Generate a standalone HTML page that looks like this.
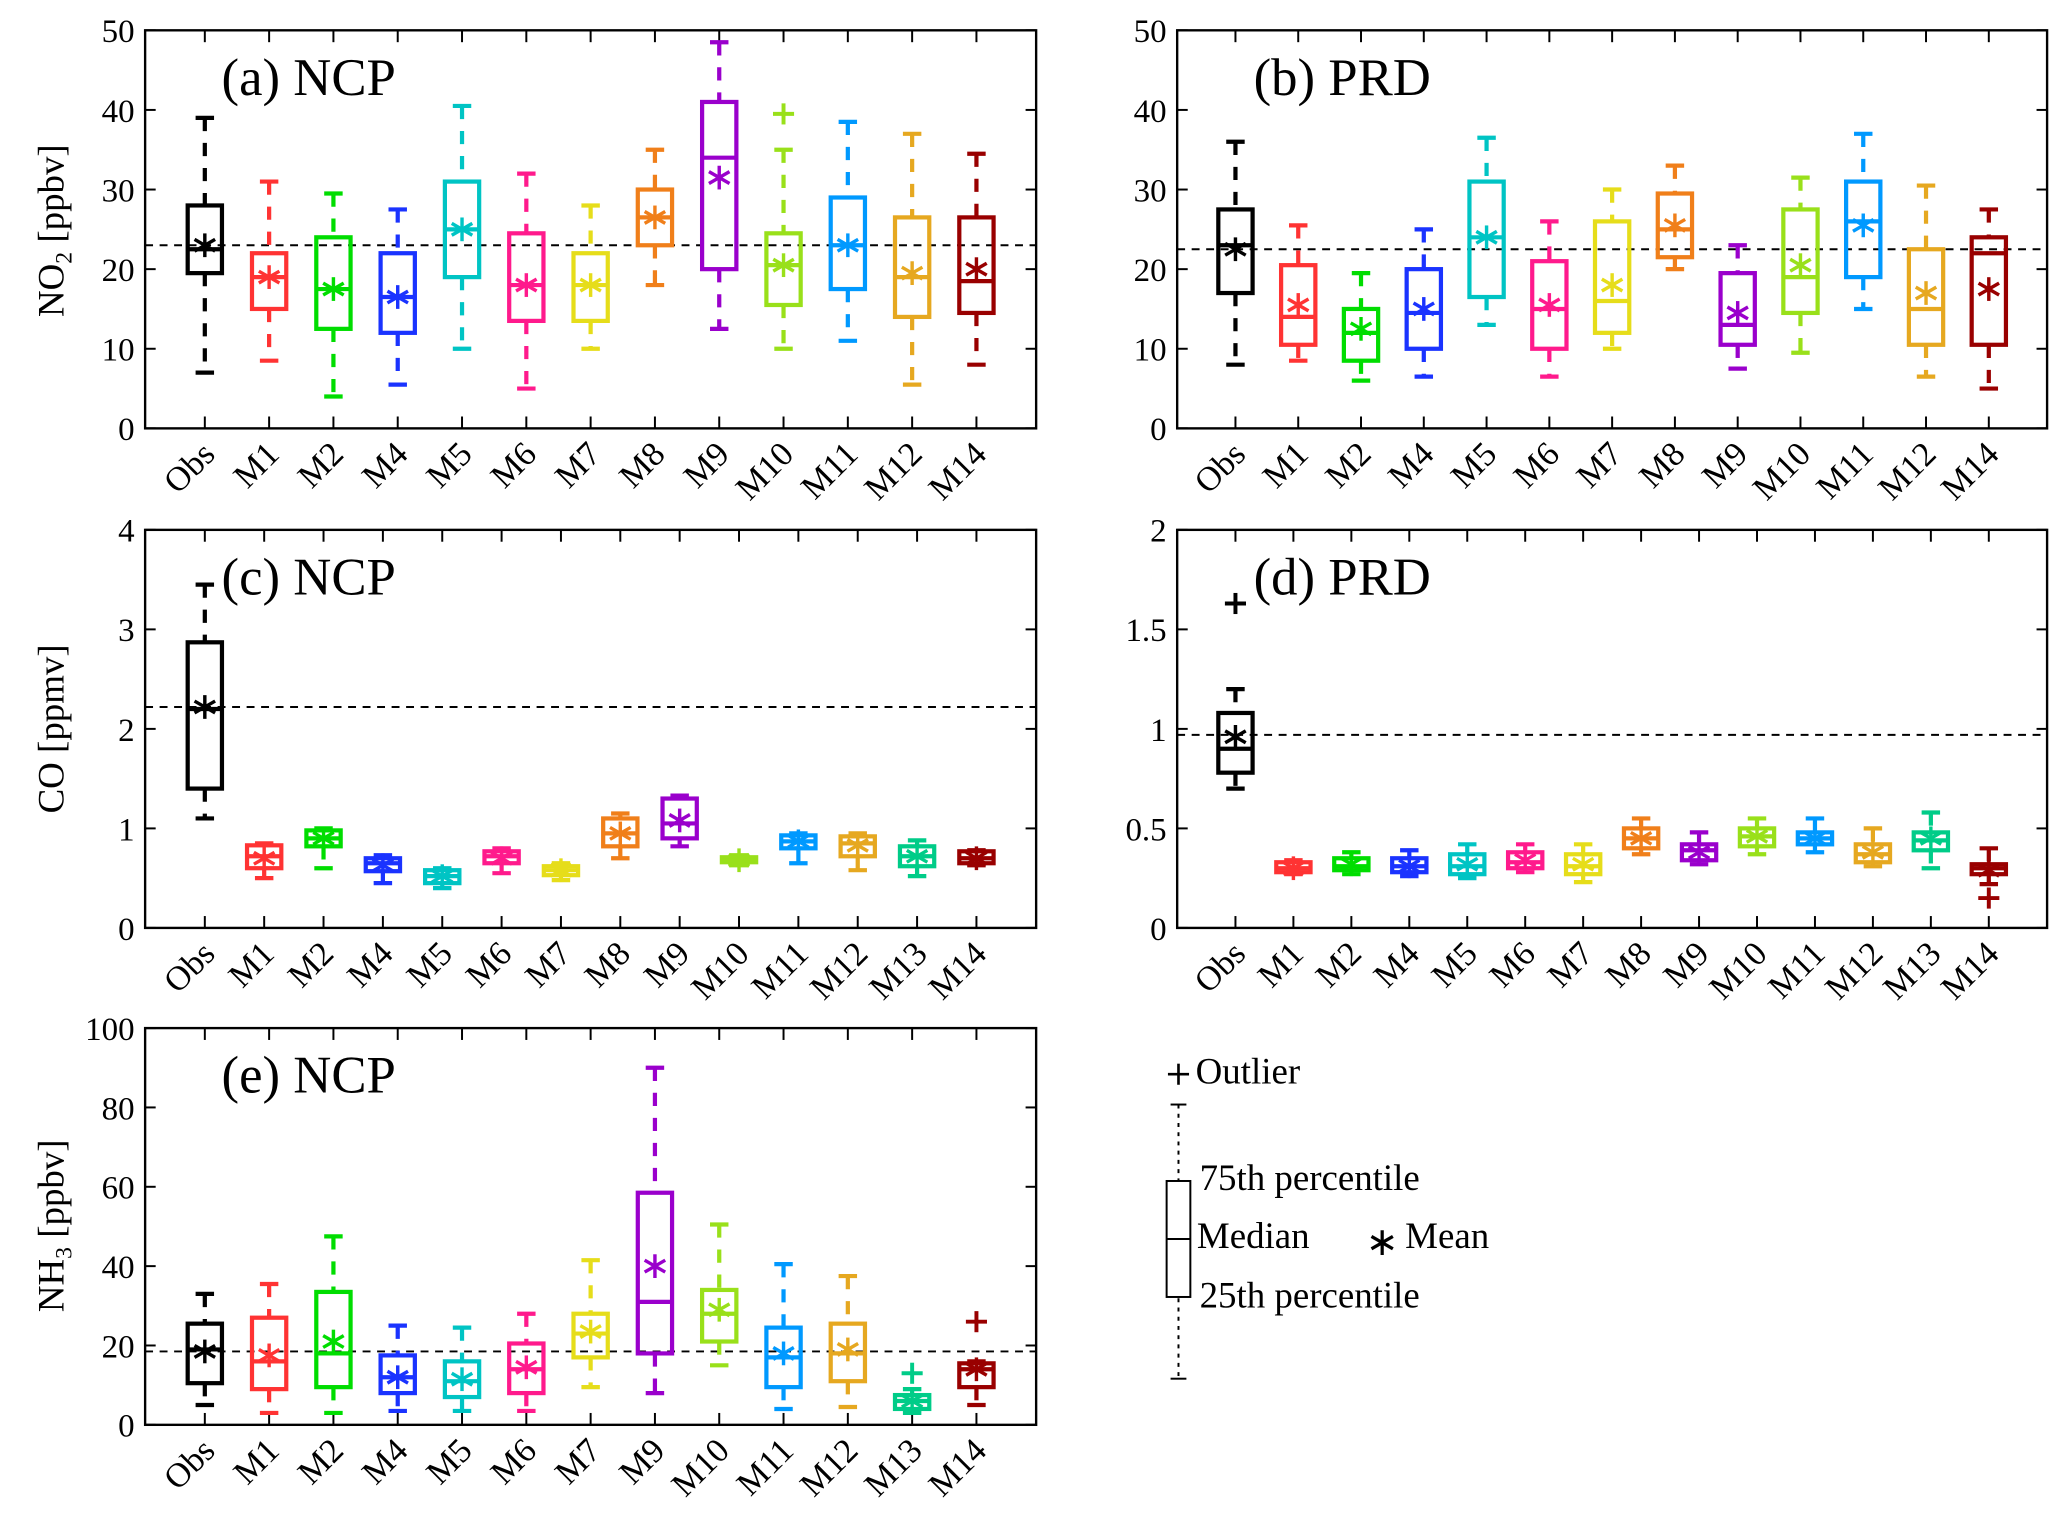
<!DOCTYPE html>
<html><head><meta charset="utf-8"><style>
html,body{margin:0;padding:0;background:#fff}
svg{display:block}
text{font-family:"Liberation Serif",serif;fill:#000}
</style></head><body>
<svg id="chart" width="2067" height="1525" viewBox="0 0 1568 1157" xmlns="http://www.w3.org/2000/svg"></svg>
<script>
const catsA=["Obs","M1","M2","M4","M5","M6","M7","M8","M9","M10","M11","M12","M14"];
const catsC=["Obs","M1","M2","M4","M5","M6","M7","M8","M9","M10","M11","M12","M13","M14"];
const catsE=["Obs","M1","M2","M4","M5","M6","M7","M9","M10","M11","M12","M13","M14"];
// each: [low, q1, median, q3, high, mean]
const statsA=[[7,19.5,22.5,28,39,23],[8.5,15,19,22,31,19],[4,12.5,17.5,24,29.5,17.5],[5.5,12,16.5,22,27.5,16.5],[10,19,25,31,40.5,25],[5,13.5,18,24.5,32,18],[10,13.5,18,22,28,18],[18,23,26.5,30,35,26.5],[12.5,20,34,41,48.5,31.5],[10,15.5,20.5,24.5,35,20.5],[11,17.5,23,29,38.5,23],[5.5,14,19,26.5,37,19.5],[8,14.5,18.5,26.5,34.5,20]];
const outA=[[],[],[],[],[],[],[],[],[],[39.5],[],[],[]];
const statsB=[[8,17,23,27.5,36,22.5],[8.5,10.5,14,20.5,25.5,15.5],[6,8.5,12,15,19.5,12.5],[6.5,10,14.5,20,25,15],[13,16.5,24,31,36.5,24],[6.5,10,15,21,26,15.5],[10,12,16,26,30,18],[20,21.5,25,29.5,33,25.5],[7.5,10.5,13,19.5,23,14.5],[9.5,14.5,19,27.5,31.5,20.5],[15,19,26,31,37,25.5],[6.5,10.5,15,22.5,30.5,17],[5,10.5,22,24,27.5,17.5]];
const outB=[[],[],[],[],[],[],[],[],[],[],[],[],[]];
const statsC=[[1.1,1.4,2.2,2.87,3.45,2.22],[0.5,0.6,0.72,0.83,0.85,0.7],[0.6,0.82,0.9,0.98,1.0,0.9],[0.45,0.57,0.65,0.7,0.73,0.63],[0.4,0.45,0.52,0.58,0.6,0.52],[0.55,0.65,0.72,0.77,0.8,0.7],[0.48,0.53,0.58,0.62,0.65,0.58],[0.7,0.82,0.95,1.1,1.15,0.95],[0.82,0.9,1.05,1.3,1.33,1.08],[0.63,0.66,0.68,0.71,0.73,0.68],[0.65,0.8,0.87,0.93,0.95,0.87],[0.58,0.72,0.85,0.92,0.95,0.83],[0.52,0.62,0.72,0.82,0.88,0.72],[0.63,0.65,0.7,0.77,0.78,0.7]];
const outC=[[],[],[],[],[],[],[],[],[],[],[],[],[],[]];
const statsD=[[0.7,0.78,0.9,1.08,1.2,0.96],[0.27,0.28,0.3,0.33,0.34,0.3],[0.27,0.29,0.31,0.35,0.38,0.32],[0.26,0.28,0.31,0.35,0.39,0.31],[0.25,0.27,0.31,0.37,0.42,0.32],[0.28,0.3,0.33,0.38,0.42,0.34],[0.23,0.27,0.31,0.37,0.42,0.32],[0.37,0.4,0.45,0.5,0.55,0.45],[0.32,0.34,0.39,0.42,0.48,0.38],[0.37,0.41,0.46,0.5,0.55,0.46],[0.38,0.42,0.45,0.48,0.55,0.45],[0.31,0.33,0.37,0.42,0.5,0.38],[0.3,0.39,0.44,0.48,0.58,0.45],[0.22,0.27,0.3,0.32,0.4,0.29]];
const outD=[[1.63],[],[],[],[],[],[],[],[],[],[],[],[],[0.15]];
const statsE=[[5,10.5,19,25.5,33,18.5],[3,9,16,27,35.5,17.5],[3,9.5,18,33.5,47.5,21],[3.5,8,12,17.5,25,12],[3.5,7,11,16,24.5,11.5],[3.5,8,14,20.5,28,14.5],[9.5,17,23,28,41.5,23.5],[8,18,31,58.5,90,40],[15,21,28,34,50.5,29],[4,9.5,17,24.5,40.5,18],[4.5,11,18,25.5,37.5,19],[3,4,6,7.5,9,6],[5,9.5,14,15.5,16,14]];
const outE=[[],[],[],[],[],[],[],[],[],[],[],[13],[26]];
const refA=23, refB=22.5, refC=2.22, refD=0.97, refE=18.5;
const ticksA=[0,10,20,30,40,50], ticksC=[0,1,2,3,4], ticksD=[0,0.5,1,1.5,2], ticksE=[0,20,40,60,80,100];
const colors={Obs:"#000",M1:"#ff3333",M2:"#00dd00",M4:"#1a33ff",M5:"#00c4c4",M6:"#ff1a8c",M7:"#e6dd1a",M8:"#f07f1a",M9:"#9a00cc",M10:"#99e01a",M11:"#0099ff",M12:"#e6a820",M13:"#00cc88",M14:"#990000"};
const svg=document.getElementById('chart');
const NS="http://www.w3.org/2000/svg";
function mk(tag,at,parent){const e=document.createElementNS(NS,tag);for(const k in at)e.setAttribute(k,at[k]);(parent||svg).appendChild(e);return e;}
function panel(id,x0,x1,y0,y1,max,ticks,cats,stats,outs,ref,title,ylab,ylabY){
  const g=mk('g',{});
  
  
  const ys=v=>y1-(v/max)*(y1-y0);
  const n=cats.length, pad=(x1-x0)*0.067, step=(x1-x0-2*pad)/(n-1);
  const xs=i=>x0+pad+i*step;
  ticks.forEach(t=>{
    const y=ys(t);
    mk('line',{x1:x0,x2:x0+8,y1:y,y2:y,stroke:'#000','stroke-width':1.5},g);
    mk('line',{x1:x1,x2:x1-8,y1:y,y2:y,stroke:'#000','stroke-width':1.5},g);
    const tl=mk('text',{x:x0-8,y:y+9,'text-anchor':'end','font-size':25},g);tl.textContent=String(t);
    
    
  });
  mk('line',{x1:x0,x2:x1,y1:ys(ref),y2:ys(ref),stroke:'#000','stroke-width':1.5,'stroke-dasharray':'6,5'},g);
  cats.forEach((c,i)=>{
    const x=xs(i), s=stats[i], col=colors[c], w=13;
    mk('line',{x1:x,x2:x,y1:y0,y2:y0+9,stroke:'#000','stroke-width':1.5},g);
    mk('line',{x1:x,x2:x,y1:y1,y2:y1-9,stroke:'#000','stroke-width':1.5},g);
    const b=mk('g',{},g);
    
    
    const st={stroke:col,'stroke-width':3.2,fill:'none'};
    mk('line',Object.assign({x1:x,x2:x,y1:ys(s[4]),y2:ys(s[3]),'stroke-dasharray':'10,9'},st),b);
    mk('line',Object.assign({x1:x,x2:x,y1:ys(s[1]),y2:ys(s[0]),'stroke-dasharray':'10,9'},st),b);
    mk('line',Object.assign({x1:x-7,x2:x+7,y1:ys(s[4]),y2:ys(s[4])},st),b);
    mk('line',Object.assign({x1:x-7,x2:x+7,y1:ys(s[0]),y2:ys(s[0])},st),b);
    mk('rect',Object.assign({x:x-w,y:ys(s[3]),width:2*w,height:Math.max(1,ys(s[1])-ys(s[3]))},st),b);
    mk('line',Object.assign({x1:x-w,x2:x+w,y1:ys(s[2]),y2:ys(s[2])},st),b);
    const my=ys(s[5]);
    [[0,9],[7.8,4.5],[7.8,-4.5]].forEach(([dx,dy])=>mk('line',{x1:x-dx,x2:x+dx,y1:my-dy,y2:my+dy,stroke:col,'stroke-width':2.6},b));
    outs[i].forEach(o=>{const oy=ys(o);
      mk('line',{x1:x-8,x2:x+8,y1:oy,y2:oy,stroke:col,'stroke-width':3},b);
      mk('line',{x1:x,x2:x,y1:oy-8,y2:oy+8,stroke:col,'stroke-width':3},b);});
    const tl=mk('text',{x:0,y:0,'text-anchor':'end','font-size':26,transform:`translate(${x+9},${y1+21}) rotate(-45)`},g);
    tl.textContent=c;
    
    
  });
  mk('rect',{x:x0,y:y0,width:x1-x0,height:y1-y0,fill:'none',stroke:'#000','stroke-width':1.8},g);
  const t=mk('text',{x:x0+58,y:y0+49,'font-size':40},g);t.textContent=title;
  
  
  if(ylab){const yl=mk('text',{x:0,y:0,'text-anchor':'middle','font-size':28,transform:`translate(48,${ylabY}) rotate(-90)`},g);
    yl.innerHTML=ylab;
    
    }
}
panel('a',110,786,23,325,50,ticksA,catsA,statsA,outA,refA,'(a) NCP','NO<tspan font-size="18" dy="6">2</tspan><tspan dy="-6"> [ppbv]</tspan>',175);
panel('b',893,1553,23,325,50,ticksA,catsA,statsB,outB,refB,'(b) PRD',null,0);
panel('c',110,786,402,704,4,ticksC,catsC,statsC,outC,refC,'(c) NCP','CO [ppmv]',553);
panel('d',893,1553,402,704,2,ticksD,catsC,statsD,outD,refD,'(d) PRD',null,0);
panel('e',110,786,780,1081,100,ticksE,catsE,statsE,outE,refE,'(e) NCP','NH<tspan font-size="18" dy="6">3</tspan><tspan dy="-6"> [ppbv]</tspan>',930);
</script>
<svg width="2067" height="1525" viewBox="0 0 1568 1157" style="position:absolute;left:0;top:0" xmlns="http://www.w3.org/2000/svg">
<g font-family="Liberation Serif,serif" font-size="28">
<line x1="886" x2="902" y1="815" y2="815" stroke="#000" stroke-width="2"/>
<line x1="894" x2="894" y1="807" y2="823" stroke="#000" stroke-width="2"/>
<text x="907" y="822">Outlier</text>
<line x1="888" x2="900" y1="838" y2="838" stroke="#000" stroke-width="1.5"/>
<line x1="894" x2="894" y1="838" y2="1046" stroke="#000" stroke-width="1.5" stroke-dasharray="3,4"/>
<line x1="888" x2="900" y1="1046" y2="1046" stroke="#000" stroke-width="1.5"/>
<rect x="885" y="896" width="18" height="88" fill="#fff" stroke="#000" stroke-width="1.5"/>
<line x1="885" x2="903" y1="940" y2="940" stroke="#000" stroke-width="1.5"/>
<text x="910" y="903">75th percentile</text>
<text x="908" y="947">Median</text>
<text x="1036" y="952" font-size="30">∗</text>
<text x="1066" y="947">Mean</text>
<text x="910" y="992">25th percentile</text>
</g>
</svg>
</body></html>
